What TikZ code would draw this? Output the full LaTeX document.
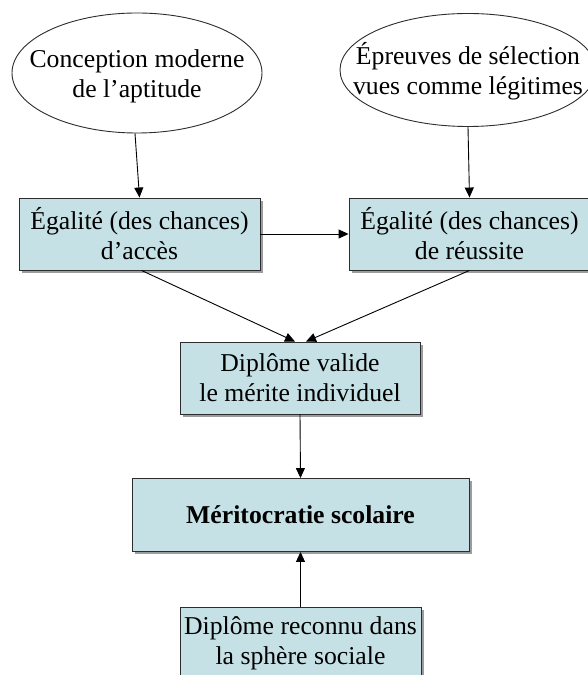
\documentclass[tikz,border=0pt]{standalone}
\usepackage{fontspec}
\setmainfont{Liberation Serif}
\usetikzlibrary{shapes.geometric,shadows,arrows.meta,calc}
\definecolor{boxfill}{RGB}{198,225,229}
\definecolor{edgegray}{RGB}{45,45,45}
\tikzset{
  x=1pt, y=1pt,
  txt/.style={font=\fontsize{25.7}{30}\selectfont, align=center, text=black},
  oval/.style={ellipse, draw=edgegray, line width=0.9pt, fill=white, inner sep=0pt},
  box/.style={txt, rectangle, draw=edgegray, line width=0.9pt, fill=boxfill, inner sep=0pt,
    drop shadow={shadow xshift=3pt, shadow yshift=-3pt, opacity=0.55, fill=black!70}},
  arr/.style={-{Triangle[length=10pt,width=9pt]}, line width=0.9pt, draw=black}
}
\begin{document}
\begin{tikzpicture}
\useasboundingbox (0,0) rectangle (588,675);
\clip (0,0) rectangle (588,675);
\fill[white] (0,0) rectangle (588,675);

\node[oval, minimum width=250pt, minimum height=120pt] (e1) at (137,602) {};
\node[txt] (t1) at (137,599) {Conception moderne\\de l’aptitude};
\node[oval, minimum width=256pt, minimum height=113pt] (e2) at (468,605) {};
\node[txt] (t2) at (468,604) {Épreuves de sélection\\vues comme légitimes};

\node[box, minimum width=241pt, minimum height=72pt] (b1) at (139.5,441) {Égalité (des chances)\\d’accès};
\node[box, minimum width=241pt, minimum height=72pt] (b2) at (469.5,441) {Égalité (des chances)\\de réussite};
\node[box, minimum width=240pt, minimum height=72pt] (b3) at (300,297) {Diplôme valide\\le mérite individuel};
\node[box, minimum width=337pt, minimum height=73pt] (b4) at (300.5,160) {\bfseries Méritocratie scolaire};
\node[box, minimum width=241pt, minimum height=72pt] (b5) at (300.5,32) {Diplôme reconnu dans\\la sphère sociale};

\draw[arr] ([xshift=-2pt]e1.south) -- (b1.north);
\draw[arr] (e2.south) -- (b2.north);
\draw[arr] (b1.east) -- (b2.west);
\draw[arr] ([xshift=2pt]b1.south) -- ([xshift=-5pt]b3.north);
\draw[arr] (b2.south) -- ([xshift=6pt]b3.north);
\draw[arr] (b3.south) -- (b4.north);
\draw[arr] (b5.north) -- (b4.south);
\end{tikzpicture}
\end{document}
